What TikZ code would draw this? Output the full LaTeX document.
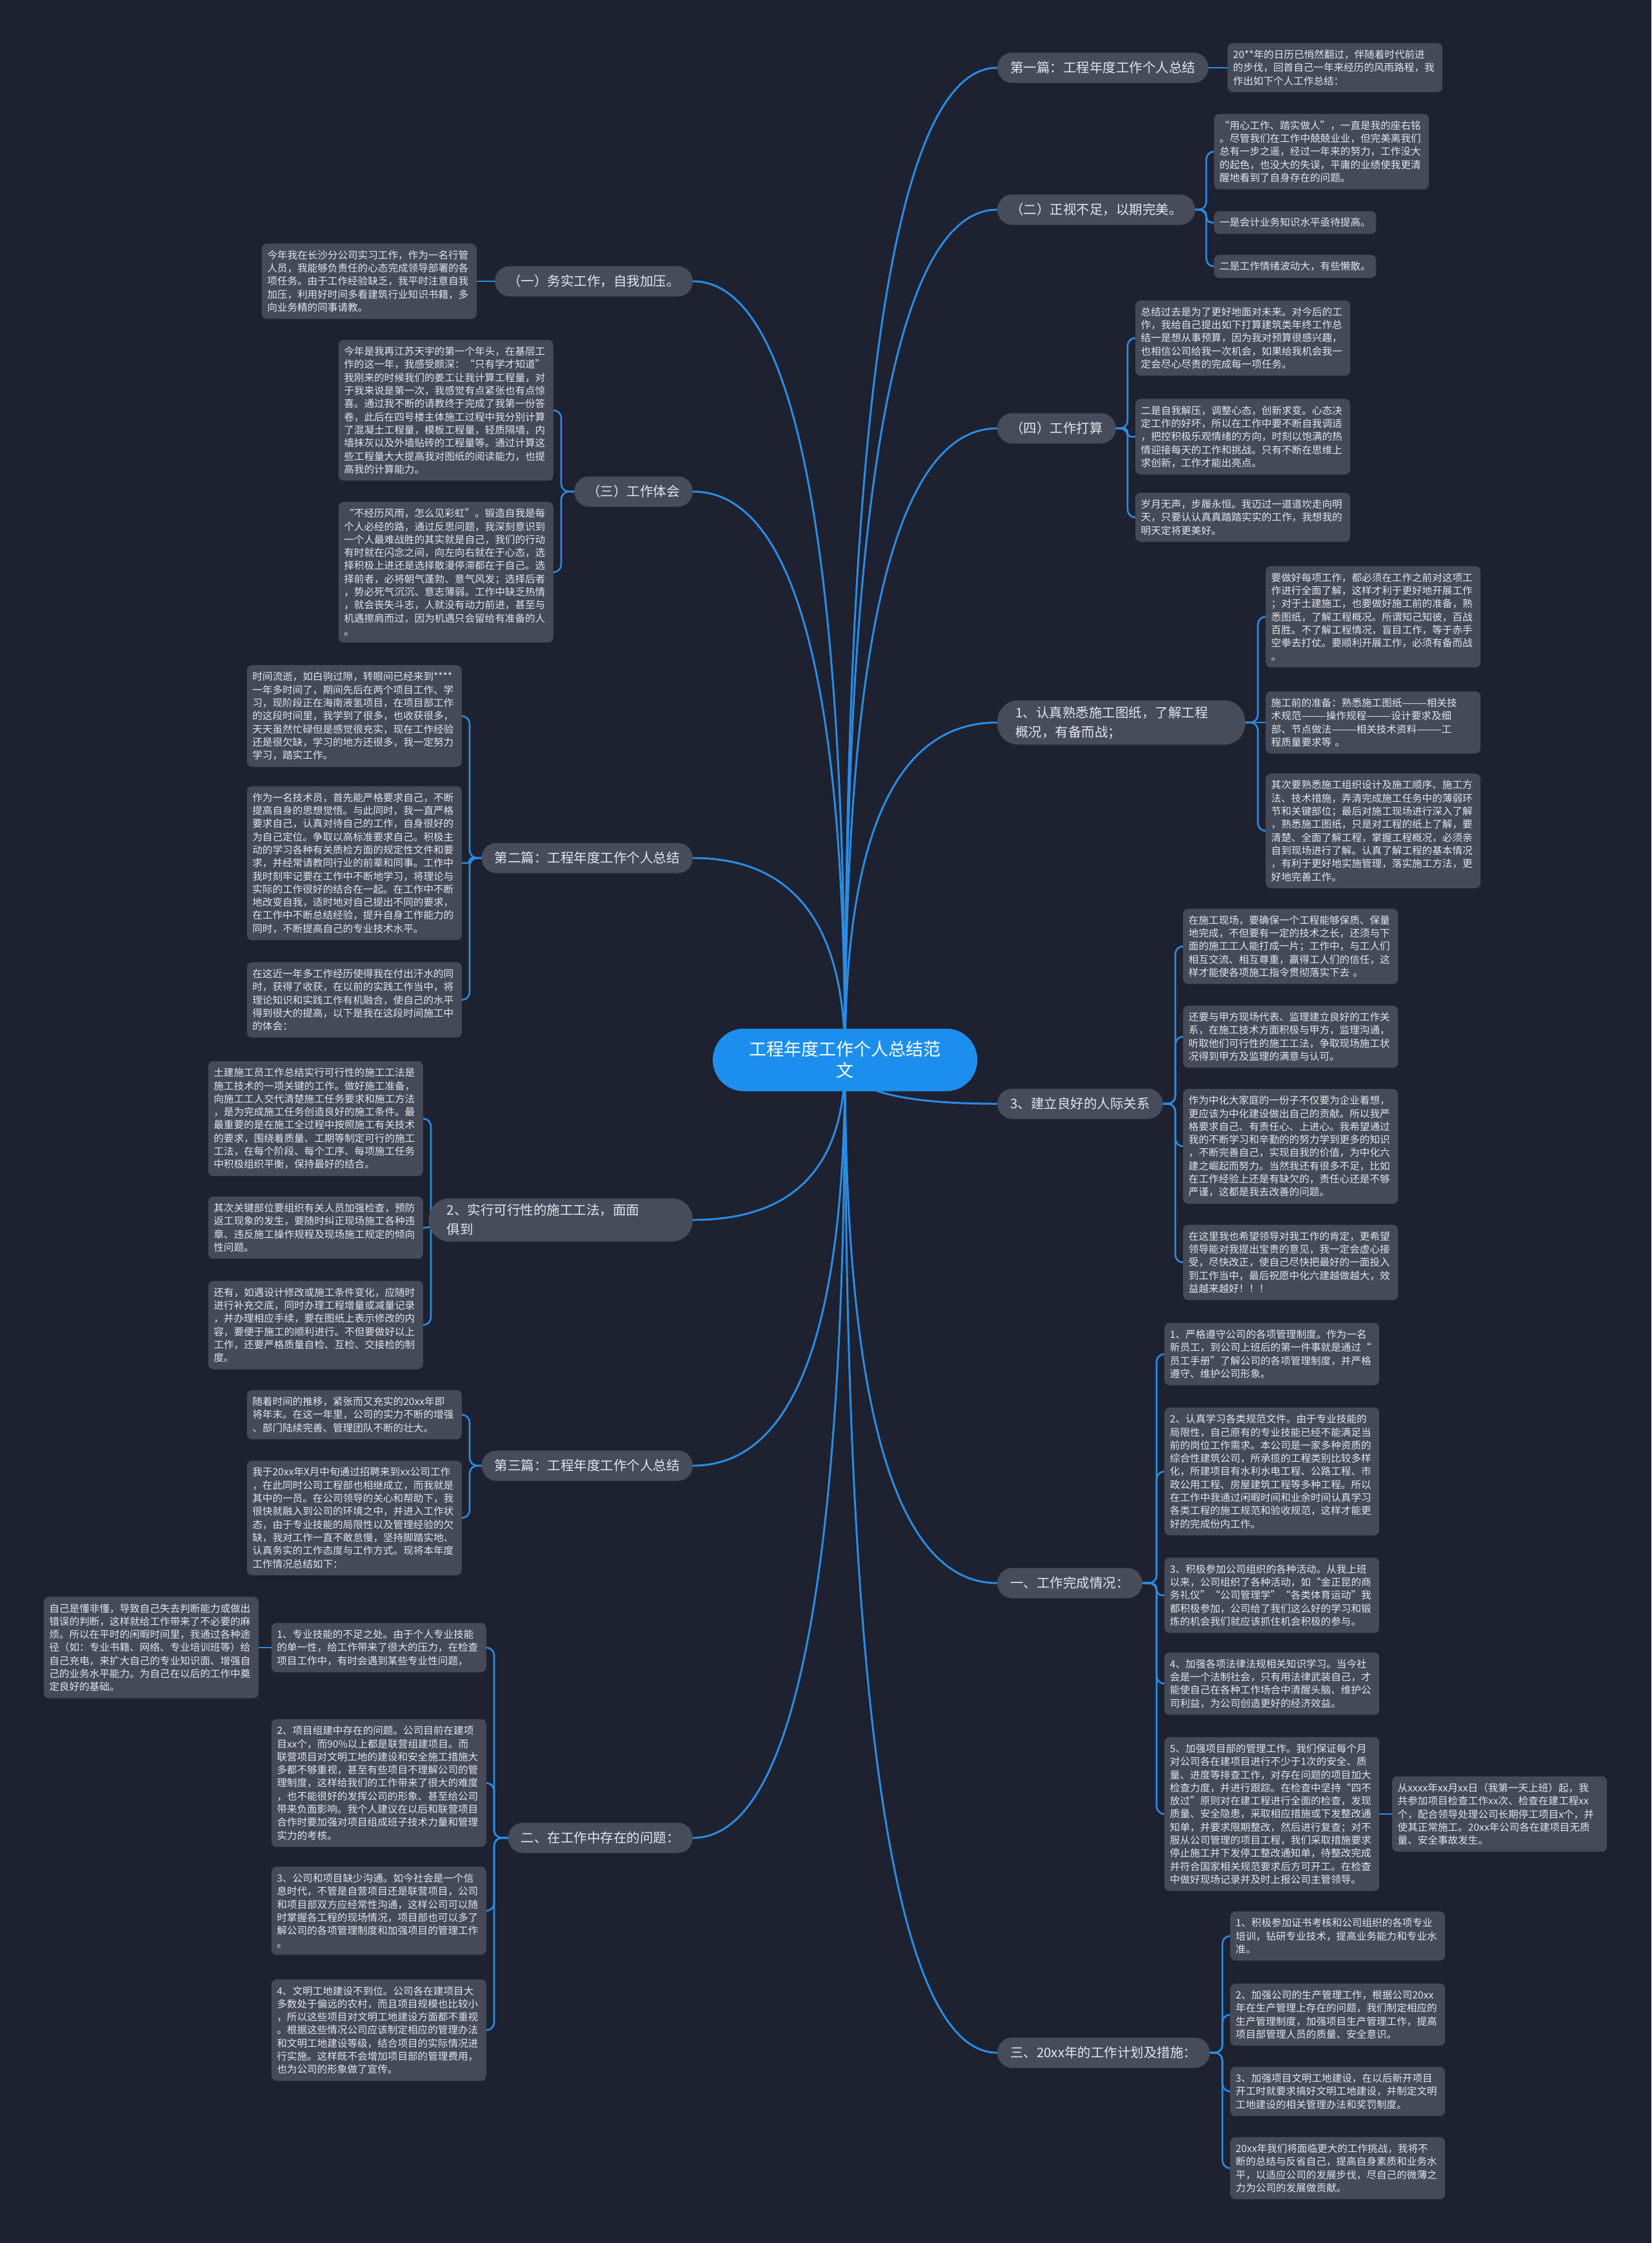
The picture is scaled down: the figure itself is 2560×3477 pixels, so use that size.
\documentclass[tikz,border=0pt]{standalone}
\usepackage{fontspec}
\setmainfont{Noto Sans CJK SC}
\usetikzlibrary{calc}
\pgfdeclarelayer{bg}
\pgfsetlayers{bg,main}
\definecolor{bgc}{HTML}{1E2130}
\definecolor{leafc}{HTML}{454A59}
\definecolor{branchc}{HTML}{474C5B}
\definecolor{linec}{HTML}{2A8CE4}
\definecolor{rootc}{HTML}{1C8FEE}
\definecolor{txtc}{HTML}{E4E6EA}
\tikzset{
  leaf/.style={fill=leafc, rounded corners=8pt, text=txtc, font=\fontsize{15.6pt}{20.3pt}\selectfont, align=left, text width=316pt, inner xsep=8.5pt, inner ysep=10.5pt},
  leafshort/.style={fill=leafc, rounded corners=8pt, text=txtc, font=\fontsize{15.6pt}{20.3pt}\selectfont, inner xsep=8.5pt, inner ysep=10.5pt},
  branch/.style={fill=branchc, rounded corners=23pt, text=txtc, font=\fontsize{20.5pt}{30pt}\selectfont, inner xsep=20pt, inner ysep=0pt, minimum height=47pt},
  branchtwo/.style={fill=branchc, rounded corners=32pt, text=txtc, font=\fontsize{20.5pt}{30pt}\selectfont, align=left, inner xsep=28pt, inner ysep=9pt},
  rootnode/.style={fill=rootc, rounded corners=48pt, text=white, font=\fontsize{27pt}{33pt}\selectfont, align=center, minimum width=410pt, minimum height=97pt},
  mainline/.style={draw=linec, line width=3pt},
  leafline/.style={draw=linec, line width=2.6pt}
}
\newcommand\rconn[3]{\draw[leafline, rounded corners=#3] (#1.center) -- ($(#1.center -| #2.west)+(-12,0)$) |- (#2.center);}
\newcommand\lconn[3]{\draw[leafline, rounded corners=#3] (#1.center) -- ($(#1.center -| #2.east)+(12,0)$) |- (#2.center);}
\newcommand\sconn[2]{\draw[leafline] (#1.center) -- (#2.center);}
\newcommand\cconnR[1]{\draw[mainline] (C.center) .. controls ($(C.center)!0.667!(C.center |- #1.west)$) and ($(#1.west)!0.667!(C.center |- #1.west)$) .. (#1.west);}
\newcommand\cconnL[1]{\draw[mainline] (C.center) .. controls ($(C.center)!0.667!(C.center |- #1.east)$) and ($(#1.east)!0.667!(C.center |- #1.east)$) .. (#1.east);}
\begin{document}
\begin{tikzpicture}[x=1pt,y=-1pt]
\begin{pgfonlayer}{bg}
\fill[bgc] (0,0) rectangle (2560,3477);
\end{pgfonlayer}
\useasboundingbox (0,0) rectangle (2560,3477);

% root
\node[rootnode] (C) at (1310,1643) {工程年度工作个人总结范\\文};

% right branches
\node[branch, anchor=west] (B1) at (1546,105) {第一篇：工程年度工作个人总结};
\node[branch, anchor=west] (B2) at (1546,325) {（二）正视不足，以期完美。};
\node[branch, anchor=west] (B4) at (1546,664) {（四）工作打算};
\node[branchtwo, anchor=west, text width=328pt] (BR1) at (1546,1120) {1、认真熟悉施工图纸，了解工程\\概况，有备而战；};
\node[branch, anchor=west] (BR3) at (1546,1711) {3、建立良好的人际关系};
\node[branch, anchor=west] (BW1) at (1546,2454) {一、工作完成情况：};
\node[branch, anchor=west] (BW3) at (1546,3182) {三、20xx年的工作计划及措施：};

% left branches
\node[branch, anchor=east] (BL1) at (1074,436) {（一）务实工作，自我加压。};
\node[branch, anchor=east] (BL3) at (1074,762) {（三）工作体会};
\node[branch, anchor=east] (BL2P) at (1074,1330) {第二篇：工程年度工作个人总结};
\node[branchtwo, anchor=east, text width=353pt] (BL2S) at (1074,1891) {2、实行可行性的施工工法，面面\\俱到};
\node[branch, anchor=east] (BL3P) at (1074,2272) {第三篇：工程年度工作个人总结};
\node[branch, anchor=east] (BLW2) at (1074,2849) {二、在工作中存在的问题：};

% right leaves
\node[leaf, anchor=west] (L1a) at (1903,105) {20**年的日历已悄然翻过，伴随着时代前进\\
的步伐，回首自己一年来经历的风雨路程，我\\
作出如下个人工作总结：};

\node[leaf, anchor=west] (L2a) at (1882,235) {“用心工作、踏实做人”，一直是我的座右铭\\
。尽管我们在工作中兢兢业业，但完美离我们\\
总有一步之遥，经过一年来的努力，工作没大\\
的起色，也没大的失误，平庸的业绩使我更清\\
醒地看到了自身存在的问题。};
\node[leafshort, anchor=west] (L2b) at (1882,345) {一是会计业务知识水平亟待提高。};
\node[leafshort, anchor=west] (L2c) at (1882,413) {二是工作情绪波动大，有些懒散。};

\node[leaf, anchor=west] (L4a) at (1760,524) {总结过去是为了更好地面对未来。对今后的工\\
作，我给自己提出如下打算建筑类年终工作总\\
结一是想从事预算，因为我对预算很感兴趣，\\
也相信公司给我一次机会，如果给我机会我一\\
定会尽心尽责的完成每一项任务。};
\node[leaf, anchor=west] (L4b) at (1760,677) {二是自我解压，调整心态，创新求变。心态决\\
定工作的好坏，所以在工作中要不断自我调适\\
，把控积极乐观情绪的方向，时刻以饱满的热\\
情迎接每天的工作和挑战。只有不断在思维上\\
求创新，工作才能出亮点。};
\node[leaf, anchor=west] (L4c) at (1760,802) {岁月无声，步履永恒。我迈过一道道坎走向明\\
天，只要认认真真踏踏实实的工作，我想我的\\
明天定将更美好。};

\node[leaf, anchor=west] (R1a) at (1962,956) {要做好每项工作，都必须在工作之前对这项工\\
作进行全面了解，这样才利于更好地开展工作\\
；对于土建施工，也要做好施工前的准备，熟\\
悉图纸，了解工程概况。所谓知己知彼，百战\\
百胜。不了解工程情况，盲目工作，等于赤手\\
空拳去打仗。要顺利开展工作，必须有备而战\\
。};
\node[leaf, anchor=west] (R1b) at (1962,1120) {施工前的准备：熟悉施工图纸———相关技\\
术规范———操作规程———设计要求及细\\
部、节点做法———相关技术资料———工\\
程质量要求等 。};
\node[leaf, anchor=west] (R1c) at (1962,1288) {其次要熟悉施工组织设计及施工顺序、施工方\\
法、技术措施，弄清完成施工任务中的薄弱环\\
节和关键部位；最后对施工现场进行深入了解\\
，熟悉施工图纸，只是对工程的纸上了解，要\\
清楚、全面了解工程，掌握工程概况，必须亲\\
自到现场进行了解。认真了解工程的基本情况\\
，有利于更好地实施管理，落实施工方法，更\\
好地完善工作。};

\node[leaf, anchor=west] (R3a) at (1834,1467) {在施工现场，要确保一个工程能够保质、保量\\
地完成，不但要有一定的技术之长，还须与下\\
面的施工工人能打成一片；工作中，与工人们\\
相互交流、相互尊重，赢得工人们的信任，这\\
样才能使各项施工指令贯彻落实下去 。};
\node[leaf, anchor=west] (R3b) at (1834,1607) {还要与甲方现场代表、监理建立良好的工作关\\
系，在施工技术方面积极与甲方，监理沟通，\\
听取他们可行性的施工工法，争取现场施工状\\
况得到甲方及监理的满意与认可。};
\node[leaf, anchor=west] (R3c) at (1834,1777) {作为中化大家庭的一份子不仅要为企业着想，\\
更应该为中化建设做出自己的贡献。所以我严\\
格要求自己、有责任心、上进心。我希望通过\\
我的不断学习和辛勤的的努力学到更多的知识\\
，不断完善自己，实现自我的价值，为中化六\\
建之崛起而努力。当然我还有很多不足，比如\\
在工作经验上还是有缺欠的，责任心还是不够\\
严谨，这都是我去改善的问题。};
\node[leaf, anchor=west] (R3d) at (1834,1957) {在这里我也希望领导对我工作的肯定，更希望\\
领导能对我提出宝贵的意见，我一定会虚心接\\
受，尽快改正，使自己尽快把最好的一面投入\\
到工作当中，最后祝愿中化六建越做越大，效\\
益越来越好！！！};

\node[leaf, anchor=west] (W1a) at (1805,2099) {1、严格遵守公司的各项管理制度。作为一名\\
新员工，到公司上班后的第一件事就是通过“\\
员工手册”了解公司的各项管理制度，并严格\\
遵守、维护公司形象。};
\node[leaf, anchor=west] (W1b) at (1805,2281) {2、认真学习各类规范文件。由于专业技能的\\
局限性，自己原有的专业技能已经不能满足当\\
前的岗位工作需求。本公司是一家多种资质的\\
综合性建筑公司，所承揽的工程类别比较多样\\
化，所建项目有水利水电工程、公路工程、市\\
政公用工程、房屋建筑工程等多种工程。所以\\
在工作中我通过闲暇时间和业余时间认真学习\\
各类工程的施工规范和验收规范，这样才能更\\
好的完成份内工作。};
\node[leaf, anchor=west] (W1c) at (1805,2473) {3、积极参加公司组织的各种活动。从我上班\\
以来，公司组织了各种活动，如“金正昆的商\\
务礼仪”“公司管理学”“各类体育运动”我\\
都积极参加，公司给了我们这么好的学习和锻\\
炼的机会我们就应该抓住机会积极的参与。};
\node[leaf, anchor=west] (W1d) at (1805,2610) {4、加强各项法律法规相关知识学习。当今社\\
会是一个法制社会，只有用法律武装自己，才\\
能使自己在各种工作场合中清醒头脑、维护公\\
司利益，为公司创造更好的经济效益。};
\node[leaf, anchor=west] (W1e) at (1805,2812) {5、加强项目部的管理工作。我们保证每个月\\
对公司各在建项目进行不少于1次的安全、质\\
量、进度等排查工作，对存在问题的项目加大\\
检查力度，并进行跟踪。在检查中坚持“四不\\
放过”原则对在建工程进行全面的检查，发现\\
质量、安全隐患，采取相应措施或下发整改通\\
知单，并要求限期整改，然后进行复查；对不\\
服从公司管理的项目工程，我们采取措施要求\\
停止施工并下发停工整改通知单，待整改完成\\
并符合国家相关规范要求后方可开工。在检查\\
中做好现场记录并及时上报公司主管领导。};
\node[leaf, anchor=west] (F) at (2158,2812) {从xxxx年xx月xx日（我第一天上班）起，我\\
共参加项目检查工作xx次、检查在建工程xx\\
个，配合领导处理公司长期停工项目x个，并\\
使其正常施工。20xx年公司各在建项目无质\\
量、安全事故发生。};

\node[leaf, anchor=west] (W3a) at (1907,3001) {1、积极参加证书考核和公司组织的各项专业\\
培训，钻研专业技术，提高业务能力和专业水\\
准。};
\node[leaf, anchor=west] (W3b) at (1907,3123) {2、加强公司的生产管理工作，根据公司20xx\\
年在生产管理上存在的问题，我们制定相应的\\
生产管理制度，加强项目生产管理工作，提高\\
项目部管理人员的质量、安全意识。};
\node[leaf, anchor=west] (W3c) at (1907,3242) {3、加强项目文明工地建设，在以后新开项目\\
开工时就要求搞好文明工地建设，并制定文明\\
工地建设的相关管理办法和奖罚制度。};
\node[leaf, anchor=west] (W3d) at (1907,3361) {20xx年我们将面临更大的工作挑战，我将不\\
断的总结与反省自己，提高自身素质和业务水\\
平，以适应公司的发展步伐，尽自己的微薄之\\
力为公司的发展做贡献。};

% left leaves
\node[leaf, anchor=east] (LA) at (739,436) {今年我在长沙分公司实习工作，作为一名行管\\
人员，我能够负责任的心态完成领导部署的各\\
项任务。由于工作经验缺乏，我平时注意自我\\
加压，利用好时间多看建筑行业知识书籍，多\\
向业务精的同事请教。};

\node[leaf, anchor=east] (LCa) at (858,636) {今年是我再江苏天宇的第一个年头，在基层工\\
作的这一年，我感受颇深：“只有学才知道”\\
我刚来的时候我们的姜工让我计算工程量，对\\
于我来说是第一次，我感觉有点紧张也有点惊\\
喜。通过我不断的请教终于完成了我第一份答\\
卷，此后在四号楼主体施工过程中我分别计算\\
了混凝土工程量，模板工程量，轻质隔墙，内\\
墙抹灰以及外墙贴砖的工程量等。通过计算这\\
些工程量大大提高我对图纸的阅读能力，也提\\
高我的计算能力。};
\node[leaf, anchor=east] (LCb) at (858,887) {“不经历风雨，怎么见彩虹”。锻造自我是每\\
个人必经的路，通过反思问题，我深刻意识到\\
一个人最难战胜的其实就是自己，我们的行动\\
有时就在闪念之间，向左向右就在于心态，选\\
择积极上进还是选择散漫停滞都在于自己。选\\
择前者，必将朝气蓬勃、意气风发；选择后者\\
，势必死气沉沉、意志薄弱。工作中缺乏热情\\
，就会丧失斗志，人就没有动力前进，甚至与\\
机遇擦肩而过，因为机遇只会留给有准备的人\\
。};

\node[leaf, anchor=east] (L2Pa) at (716,1110) {时间流逝，如白驹过隙，转眼间已经来到****\\
一年多时间了，期间先后在两个项目工作、学\\
习，现阶段正在海南液氢项目，在项目部工作\\
的这段时间里，我学到了很多，也收获很多，\\
天天虽然忙碌但是感觉很充实，现在工作经验\\
还是很欠缺，学习的地方还很多，我一定努力\\
学习，踏实工作。};
\node[leaf, anchor=east] (L2Pb) at (716,1338) {作为一名技术员，首先能严格要求自己，不断\\
提高自身的思想觉悟。与此同时，我一直严格\\
要求自己，认真对待自己的工作，自身很好的\\
为自己定位。争取以高标准要求自己。积极主\\
动的学习各种有关质检方面的规定性文件和要\\
求，并经常请教同行业的前辈和同事。工作中\\
我时刻牢记要在工作中不断地学习，将理论与\\
实际的工作很好的结合在一起。在工作中不断\\
地改变自我，适时地对自己提出不同的要求，\\
在工作中不断总结经验，提升自身工作能力的\\
同时，不断提高自己的专业技术水平。};
\node[leaf, anchor=east] (L2Pc) at (716,1550) {在这近一年多工作经历使得我在付出汗水的同\\
时，获得了收获，在以前的实践工作当中，将\\
理论知识和实践工作有机融合，使自己的水平\\
得到很大的提高，以下是我在这段时间施工中\\
的体会：};

\node[leaf, anchor=east] (L2Sa) at (656,1734) {土建施工员工作总结实行可行性的施工工法是\\
施工技术的一项关键的工作。做好施工准备，\\
向施工工人交代清楚施工任务要求和施工方法\\
，是为完成施工任务创造良好的施工条件。最\\
最重要的是在施工全过程中按照施工有关技术\\
的要求，围绕着质量、工期等制定可行的施工\\
工法，在每个阶段、每个工序、每项施工任务\\
中积极组织平衡，保持最好的结合。};
\node[leaf, anchor=east] (L2Sb) at (656,1903) {其次关键部位要组织有关人员加强检查，预防\\
返工现象的发生，要随时纠正现场施工各种违\\
章、违反施工操作规程及现场施工规定的倾向\\
性问题。};
\node[leaf, anchor=east] (L2Sc) at (656,2054) {还有，如遇设计修改或施工条件变化，应随时\\
进行补充交底，同时办理工程增量或减量记录\\
，并办理相应手续，要在图纸上表示修改的内\\
容，要便于施工的顺利进行。不但要做好以上\\
工作，还要严格质量自检、互检、交接检的制\\
度。};

\node[leaf, anchor=east] (L3Pa) at (716,2193) {随着时间的推移，紧张而又充实的20xx年即\\
将年末。在这一年里，公司的实力不断的增强\\
、部门陆续完善、管理团队不断的壮大。};
\node[leaf, anchor=east] (L3Pb) at (716,2353) {我于20xx年X月中旬通过招聘来到xx公司工作\\
，在此同时公司工程部也相继成立，而我就是\\
其中的一员。在公司领导的关心和帮助下，我\\
很快就融入到公司的环境之中，并进入工作状\\
态，由于专业技能的局限性以及管理经验的欠\\
缺，我对工作一直不敢怠慢，坚持脚踏实地、\\
认真务实的工作态度与工作方式。现将本年度\\
工作情况总结如下：};

\node[leaf, anchor=east] (LW2a) at (754,2554) {1、专业技能的不足之处。由于个人专业技能\\
的单一性，给工作带来了很大的压力，在检查\\
项目工作中，有时会遇到某些专业性问题，};
\node[leaf, anchor=east] (FL) at (401,2554) {自己是懂非懂，导致自己失去判断能力或做出\\
错误的判断，这样就给工作带来了不必要的麻\\
烦。所以在平时的闲暇时间里，我通过各种途\\
径（如：专业书籍、网络、专业培训班等）给\\
自己充电，来扩大自己的专业知识面、增强自\\
己的业务水平能力。为自己在以后的工作中奠\\
定良好的基础。};
\node[leaf, anchor=east] (LW2b) at (754,2764) {2、项目组建中存在的问题。公司目前在建项\\
目xx个，而90\%以上都是联营组建项目。而\\
联营项目对文明工地的建设和安全施工措施大\\
多都不够重视，甚至有些项目不理解公司的管\\
理制度，这样给我们的工作带来了很大的难度\\
，也不能很好的发挥公司的形象、甚至给公司\\
带来负面影响。我个人建议在以后和联营项目\\
合作时要加强对项目组成班子技术力量和管理\\
实力的考核。};
\node[leaf, anchor=east] (LW2c) at (754,2962) {3、公司和项目缺少沟通。如今社会是一个信\\
息时代，不管是自营项目还是联营项目，公司\\
和项目部双方应经常性沟通，这样公司可以随\\
时掌握各工程的现场情况，项目部也可以多了\\
解公司的各项管理制度和加强项目的管理工作\\
。};
\node[leaf, anchor=east] (LW2d) at (754,3147) {4、文明工地建设不到位。公司各在建项目大\\
多数处于偏远的农村，而且项目规模也比较小\\
，所以这些项目对文明工地建设方面都不重视\\
。根据这些情况公司应该制定相应的管理办法\\
和文明工地建设等级，结合项目的实际情况进\\
行实施。这样既不会增加项目部的管理费用，\\
也为公司的形象做了宣传。};

\begin{pgfonlayer}{bg}
% root to branches
\cconnR{B1}\cconnR{B2}\cconnR{B4}\cconnR{BR1}\cconnR{BR3}\cconnR{BW1}\cconnR{BW3}
\cconnL{BL1}\cconnL{BL3}\cconnL{BL2P}\cconnL{BL2S}\cconnL{BL3P}\cconnL{BLW2}
% right leaves
\sconn{B1}{L1a}
\rconn{B2}{L2a}{12pt}\rconn{B2}{L2b}{9pt}\rconn{B2}{L2c}{12pt}
\rconn{B4}{L4a}{12pt}\rconn{B4}{L4b}{6pt}\rconn{B4}{L4c}{12pt}
\rconn{BR1}{R1a}{12pt}\sconn{BR1}{R1b}\rconn{BR1}{R1c}{12pt}
\rconn{BR3}{R3a}{12pt}\rconn{BR3}{R3b}{12pt}\rconn{BR3}{R3c}{12pt}\rconn{BR3}{R3d}{12pt}
\rconn{BW1}{W1a}{12pt}\rconn{BW1}{W1b}{12pt}\rconn{BW1}{W1c}{9pt}\rconn{BW1}{W1d}{12pt}\rconn{BW1}{W1e}{12pt}
\sconn{W1e}{F}
\rconn{BW3}{W3a}{12pt}\rconn{BW3}{W3b}{12pt}\rconn{BW3}{W3c}{12pt}\rconn{BW3}{W3d}{12pt}
% left leaves
\sconn{BL1}{LA}
\lconn{BL3}{LCa}{12pt}\lconn{BL3}{LCb}{12pt}
\lconn{BL2P}{L2Pa}{12pt}\lconn{BL2P}{L2Pb}{4pt}\lconn{BL2P}{L2Pc}{12pt}
\lconn{BL2S}{L2Sa}{12pt}\lconn{BL2S}{L2Sb}{6pt}\lconn{BL2S}{L2Sc}{12pt}
\lconn{BL3P}{L3Pa}{12pt}\lconn{BL3P}{L3Pb}{12pt}
\lconn{BLW2}{LW2a}{12pt}\lconn{BLW2}{LW2b}{12pt}\lconn{BLW2}{LW2c}{12pt}\lconn{BLW2}{LW2d}{12pt}
\sconn{LW2a}{FL}
\end{pgfonlayer}
\end{tikzpicture}
\end{document}
